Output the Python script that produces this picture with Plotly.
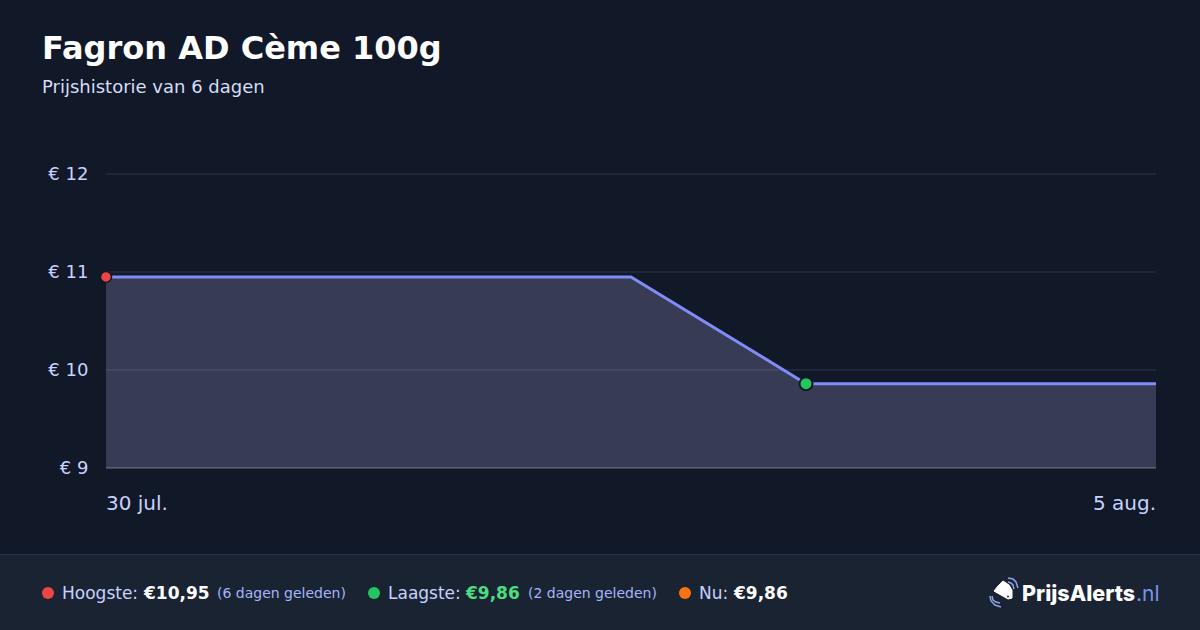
import plotly.graph_objects as go

dates = ["2025-07-30", "2025-07-31", "2025-08-01", "2025-08-02", "2025-08-03", "2025-08-04", "2025-08-05"]
prices = [10.95, 10.95, 10.95, 10.95, 9.86, 9.86, 9.86]
y_ticks = [9, 10, 11, 12]
y_labels = ["€ 9", "€ 10", "€ 11", "€ 12"]
x_labels = ["30 jul.", "5 aug."]
high_date, high_price = "2025-07-30", 10.95
low_date, low_price = "2025-08-03", 9.86

W, H = 1200, 630
L, R, T, B = 106, 44, 174, 162
FONT = "DejaVu Sans"
BG = "#111827"
FOOT = "#1a2332"

def px(x):
    return (x - L) / (W - L - R)

def py(y):
    return 1 - (y - T) / (H - T - B)

fig = go.Figure()
fig.add_trace(go.Scatter(
    x=dates, y=prices, mode="lines",
    line=dict(color="#818cf8", width=3, shape="linear"),
    fill="tozeroy", fillcolor="rgba(190,190,245,0.22)",
    hoverinfo="skip", showlegend=False,
))
fig.add_trace(go.Scatter(
    x=[high_date], y=[high_price], mode="markers",
    marker=dict(size=11, color="#ef4444", line=dict(color=BG, width=1.5)),
    cliponaxis=False, hoverinfo="skip", showlegend=False,
))
fig.add_trace(go.Scatter(
    x=[low_date], y=[low_price], mode="markers",
    marker=dict(size=13, color="#22c55e", line=dict(color=BG, width=2)),
    cliponaxis=False, hoverinfo="skip", showlegend=False,
))

shapes = [
    dict(type="rect", xref="paper", yref="paper", x0=px(0), x1=px(W), y0=py(555), y1=py(H),
         fillcolor=FOOT, line_width=0, layer="below"),
    dict(type="line", xref="paper", yref="paper", x0=px(0), x1=px(W), y0=py(554.5), y1=py(554.5),
         line=dict(color="#262f52", width=1), layer="below"),
]
for t in y_ticks:
    frac = (t - y_ticks[0]) / (y_ticks[-1] - y_ticks[0])
    shapes.append(dict(type="line", xref="paper", yref="paper", x0=0, x1=1, y0=frac, y1=frac,
                       line=dict(color="#4b5068" if t == y_ticks[0] else "#1e2638", width=2 if t != y_ticks[0] else 1.5),
                       layer="below"))
for cx, col in [(48, "#ef4444"), (374, "#22c55e"), (685, "#f97316")]:
    shapes.append(dict(type="circle", xref="paper", yref="paper",
                       x0=px(cx - 6), x1=px(cx + 6), y0=py(599), y1=py(587),
                       fillcolor=col, line_width=0))

# logo: a tag with signal arcs
def path(points):
    return "M " + " L ".join(f"{px(a):.5f},{py(b):.5f}" for a, b in points) + " Z"

def open_path(points):
    return "M " + " L ".join(f"{px(a):.5f},{py(b):.5f}" for a, b in points)

shapes.append(dict(type="path", xref="paper", yref="paper",
                   path=path([(1003, 581), (1009, 585), (1012, 590), (1012, 598), (1008, 599),
                              (994, 591), (998, 586)]),
                   fillcolor="white", line=dict(color="white", width=1)))
shapes.append(dict(type="circle", xref="paper", yref="paper",
                   x0=px(1007), x1=px(1009), y0=py(597.5), y1=py(595.5),
                   fillcolor=FOOT, line_width=0))
for pts in [
    [(1008, 582), (1011, 583), (1013, 585), (1014, 589)],
    [(1008, 578), (1013, 579), (1016, 582), (1018, 588)],
    [(992, 596), (993, 600), (996, 602), (1000, 603)],
    [(990, 596), (991, 601), (995, 605), (1001, 607)],
]:
    shapes.append(dict(type="path", xref="paper", yref="paper", path=open_path(pts),
                       line=dict(color="#8ea2e8", width=1.5)))

def text(x, y, s, size, color, anchor="left", bold=False, family=FONT, weight=None):
    font = dict(family=family, size=size, color=color)
    if weight:
        font["weight"] = weight
    return dict(xref="paper", yref="paper", x=px(x), y=py(y), text=f"<b>{s}</b>" if bold else s,
                showarrow=False, xanchor=anchor, yanchor="middle", xshift=-2,
                font=font, align=anchor)

annotations = [
    text(42, 48, "Fagron AD Cème 100g", 32, "#ffffff", bold=True),
    text(42, 86, "Prijshistorie van 6 dagen", 18, "#d5ddf8"),
    dict(xref="x", yref="paper", x=dates[0], y=py(503), text=x_labels[0], showarrow=False, xshift=-2,
         xanchor="left", yanchor="middle", font=dict(family=FONT, size=20, color="#c7d2fe")),
    dict(xref="x", yref="paper", x=dates[-1], y=py(503), text=x_labels[1], showarrow=False, xshift=2,
         xanchor="right", yanchor="middle", font=dict(family=FONT, size=20, color="#c7d2fe")),
    text(62, 593, "Hoogste:", 17, "#c7d2fe"),
    text(143, 593, "€10,95", 17, "#ffffff", bold=True),
    text(217, 593, "(6 dagen geleden)", 14, "#a5b4fc"),
    text(388, 593, "Laagste:", 17, "#c7d2fe"),
    text(465, 593, "€9,86", 17, "#4ade80", bold=True),
    text(528, 593, "(2 dagen geleden)", 14, "#a5b4fc"),
    text(699, 593, "Nu:", 17, "#c7d2fe"),
    text(733, 593, "€9,86", 17, "#ffffff", bold=True),
    text(1022, 593, "PrijsAlerts", 21.5, "#ffffff", family="Inter", weight=800),
    text(1136, 593, ".nl", 21, "#7b93e8", family="Inter"),
]

fig.update_layout(
    width=W, height=H, autosize=False,
    margin=dict(l=L, r=R, t=T, b=B, pad=0),
    paper_bgcolor=BG, plot_bgcolor=BG,
    showlegend=False,
    font=dict(family=FONT),
    shapes=shapes, annotations=annotations,
    xaxis=dict(type="date", range=[dates[0], dates[-1]], showgrid=False, zeroline=False,
               showticklabels=False, ticks="", showline=False, fixedrange=True),
    yaxis=dict(range=[y_ticks[0], y_ticks[-1]], tickvals=y_ticks, ticktext=y_labels, showgrid=False,
               zeroline=False, showline=False, ticks="outside",
               ticklen=13, tickcolor="rgba(0,0,0,0)", tickfont=dict(family=FONT, size=18, color="#c7d2fe"),
               fixedrange=True),
)
fig.write_html("out.html", config=dict(displayModeBar=False),
               post_script="document.documentElement.style.overflow='hidden';document.body.style.margin='0';document.body.style.background='#111827';")
